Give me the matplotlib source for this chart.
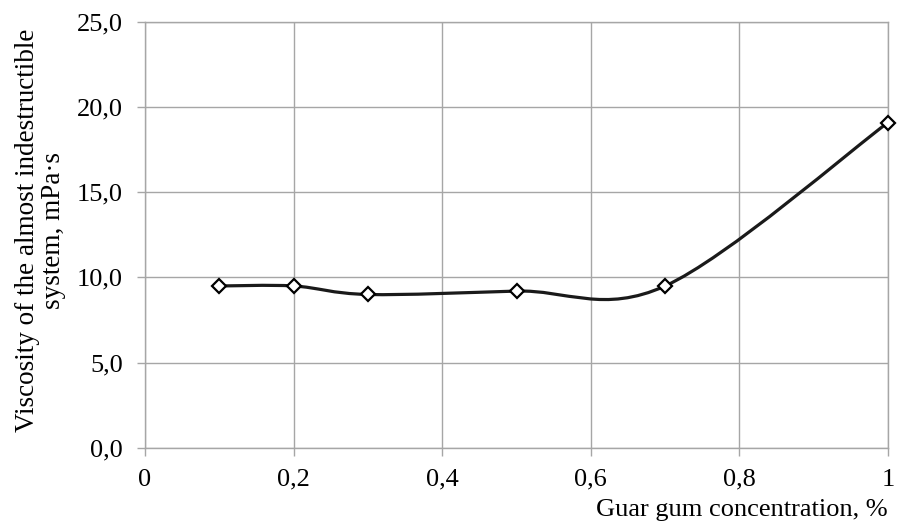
import matplotlib
matplotlib.use("Agg")
import matplotlib.pyplot as plt
from matplotlib.path import Path
from matplotlib.patches import PathPatch
from matplotlib.ticker import FuncFormatter

concentration = [0.1, 0.2, 0.3, 0.5, 0.7, 1.0]
viscosity = [9.5, 9.5, 9.0, 9.2, 9.5, 19.1]

x_ticks = [0, 0.2, 0.4, 0.6, 0.8, 1.0]
x_tick_labels = ["0", "0,2", "0,4", "0,6", "0,8", "1"]
y_ticks = [0, 5, 10, 15, 20, 25]

plt.rcParams['font.family'] = ['Liberation Serif', 'DejaVu Serif']

fig = plt.figure(figsize=(8.97, 5.25), dpi=100)
ax = fig.add_axes([0.1617, 0.1472, 0.99 - 0.1617, 0.958 - 0.1472])

grid_c = '#a6a6a6'
fs = 19

# Excel-style smoothed line: cubic Bezier with Catmull-Rom control points
n = len(concentration)
verts = [(concentration[0], viscosity[0])]
codes = [Path.MOVETO]
for i in range(n - 1):
    p0 = (concentration[max(i - 1, 0)], viscosity[max(i - 1, 0)])
    p1 = (concentration[i], viscosity[i])
    p2 = (concentration[i + 1], viscosity[i + 1])
    p3 = (concentration[min(i + 2, n - 1)], viscosity[min(i + 2, n - 1)])
    c1 = (p1[0] + (p2[0] - p0[0]) / 6, p1[1] + (p2[1] - p0[1]) / 6)
    c2 = (p2[0] - (p3[0] - p1[0]) / 6, p2[1] - (p3[1] - p1[1]) / 6)
    verts += [c1, c2, p2]
    codes += [Path.CURVE4] * 3
ax.add_patch(PathPatch(Path(verts, codes), facecolor='none', edgecolor='#1a1a1a',
                       lw=2.3, zorder=3, capstyle='round', joinstyle='round'))
ax.plot(concentration, viscosity, linestyle='none', marker='D', markersize=7.5,
        markerfacecolor='white', markeredgecolor='black', markeredgewidth=1.6,
        zorder=4, clip_on=False)

ax.set_xlim(0, 1)
ax.set_ylim(0, 25)
ax.set_xticks(x_ticks)
ax.set_xticklabels(x_tick_labels)
ax.set_yticks(y_ticks)
ax.yaxis.set_major_formatter(FuncFormatter(lambda v, p: f"{v:.1f}".replace('.', ',')))

ax.grid(True, color=grid_c, lw=1.0)
ax.set_axisbelow(True)
for s in ax.spines.values():
    s.set_color(grid_c)
    s.set_linewidth(1.0)
ax.tick_params(axis='both', colors=grid_c, length=6, width=1.0, labelsize=fs,
               labelcolor='black')
ax.tick_params(axis='x', pad=9)
ax.tick_params(axis='y', pad=10)

ax.set_ylabel("Viscosity of the almost indestructible\nsystem, mPa·s", fontsize=19.5,
              linespacing=1.05)
ax.yaxis.set_label_coords(-0.107, 0.51)
ax.set_xlabel("Guar gum concentration, %", fontsize=fs, loc='right', labelpad=6)

fig.savefig("out.png", dpi=100, facecolor='white')
